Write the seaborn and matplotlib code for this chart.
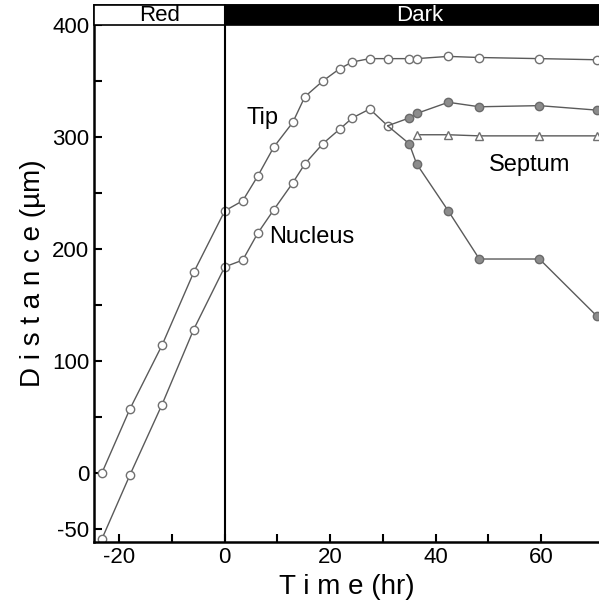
import matplotlib
matplotlib.use("Agg")
import matplotlib.pyplot as plt
from matplotlib.patches import Rectangle
import seaborn as sns

# tip of the hypha
tip_time = [-23.3, -18, -11.9, -5.9, 0, 3.4, 6.25, 9.3, 12.9, 15.2, 18.6, 21.8,
            24.2, 27.5, 30.9, 35, 36.4, 42.4, 48.3, 59.7, 70.6]
tip_dist = [0, 57, 114, 179, 234, 243, 265, 291, 313, 336, 350, 361,
            367, 370, 370, 370, 370, 372, 371, 370, 369]

# nucleus before division
nuc_time = [-23.3, -18, -11.9, -5.9, 0, 3.4, 6.25, 9.3, 12.9, 15.2, 18.6, 21.8,
            24.2, 27.5, 30.9]
nuc_dist = [-59, -2, 61, 128, 184, 190, 214, 235, 259, 276, 294, 307,
            317, 325, 310]

# daughter nuclei after division (start from last nucleus point)
daughter_time = [30.9, 35, 36.4, 42.4, 48.3, 59.7, 70.6]
front_dist = [310, 317, 321, 331, 327, 328, 324]
rear_dist = [310, 294, 276, 234, 191, 191, 140]

# septum
sep_time = [36.4, 42.4, 48.3, 59.7, 70.6]
sep_dist = [302, 302, 301, 301, 301]

yticks = [-50, 0, 100, 200, 300, 400]
xticks = [-20, 0, 20, 40, 60]

sns.set_style("ticks")
plt.rcParams['font.family'] = ['Liberation Sans', 'DejaVu Sans']
plt.rcParams['axes.unicode_minus'] = False
for k in ['text.color', 'axes.labelcolor', 'xtick.color', 'ytick.color', 'axes.edgecolor']:
    plt.rcParams[k] = 'black'

fig = plt.figure(figsize=(5.99, 6.12), dpi=100)
ax = fig.add_axes([0.157, 0.114, 0.843, 0.878])

XMIN, XMAX = -24.8, 71.0
YMIN, YMAX = -62, 418

line_col = '#5a5a5a'
open_kw = dict(color=line_col, linewidth=1.0, marker='o', markersize=6,
               markerfacecolor='white', markeredgecolor='#707070',
               markeredgewidth=1.0)

sns.lineplot(x=tip_time, y=tip_dist, ax=ax, sort=False, **open_kw)
sns.lineplot(x=nuc_time, y=nuc_dist, ax=ax, sort=False, **open_kw)

for d in (front_dist, rear_dist):
    sns.lineplot(x=daughter_time, y=d, ax=ax, sort=False, color=line_col, linewidth=1.0)
    sns.scatterplot(x=daughter_time[1:], y=d[1:], ax=ax, s=36, color='#8c8c8c',
                    edgecolor='#6a6a6a', linewidth=1.0, zorder=3)

sns.lineplot(x=sep_time, y=sep_dist, ax=ax, sort=False, color=line_col, linewidth=1.0,
             marker='^', markersize=6, markerfacecolor='white',
             markeredgecolor='#707070', markeredgewidth=1.0)

# light regime band
ax.add_patch(Rectangle((XMIN, 400), 0 - XMIN, YMAX - 400, facecolor='white',
                       edgecolor='black', linewidth=1.2, zorder=4, clip_on=False))
ax.add_patch(Rectangle((0, 400), XMAX, YMAX - 400, facecolor='black',
                       edgecolor='black', linewidth=1.2, zorder=4, clip_on=False))
ax.text(XMIN / 2, 408.5, 'Red', ha='center', va='center', fontsize=16, zorder=5)
ax.text(37, 408.5, 'Dark', ha='center', va='center', fontsize=16, color='white', zorder=5)
ax.axvline(0, color='black', linewidth=1.5, zorder=4)

ax.text(4.2, 312, 'Tip', fontsize=17, va='baseline')
ax.text(8.5, 205, 'Nucleus', fontsize=17, va='baseline')
ax.text(50.2, 270, 'Septum', fontsize=17, va='baseline')

ax.set_xlim(XMIN, XMAX)
ax.set_ylim(YMIN, YMAX)
ax.set_xticks(xticks)
ax.set_xticks([-10, 10, 30, 50], minor=True)
ax.set_yticks(yticks)
ax.set_yticks([50, 150, 250, 350], minor=True)
ax.tick_params(which='both', direction='in', width=1.5, labelsize=16, length=6)
ax.tick_params(which='minor', length=6)

ax.set_xlabel('T i m e (hr)', fontsize=20)
ax.set_ylabel('D i s t a n c e (µm)', fontsize=20)

for s in ['left', 'bottom', 'top']:
    ax.spines[s].set_linewidth(1.8)
ax.spines['right'].set_visible(False)

fig.savefig('out.png', dpi=100)
